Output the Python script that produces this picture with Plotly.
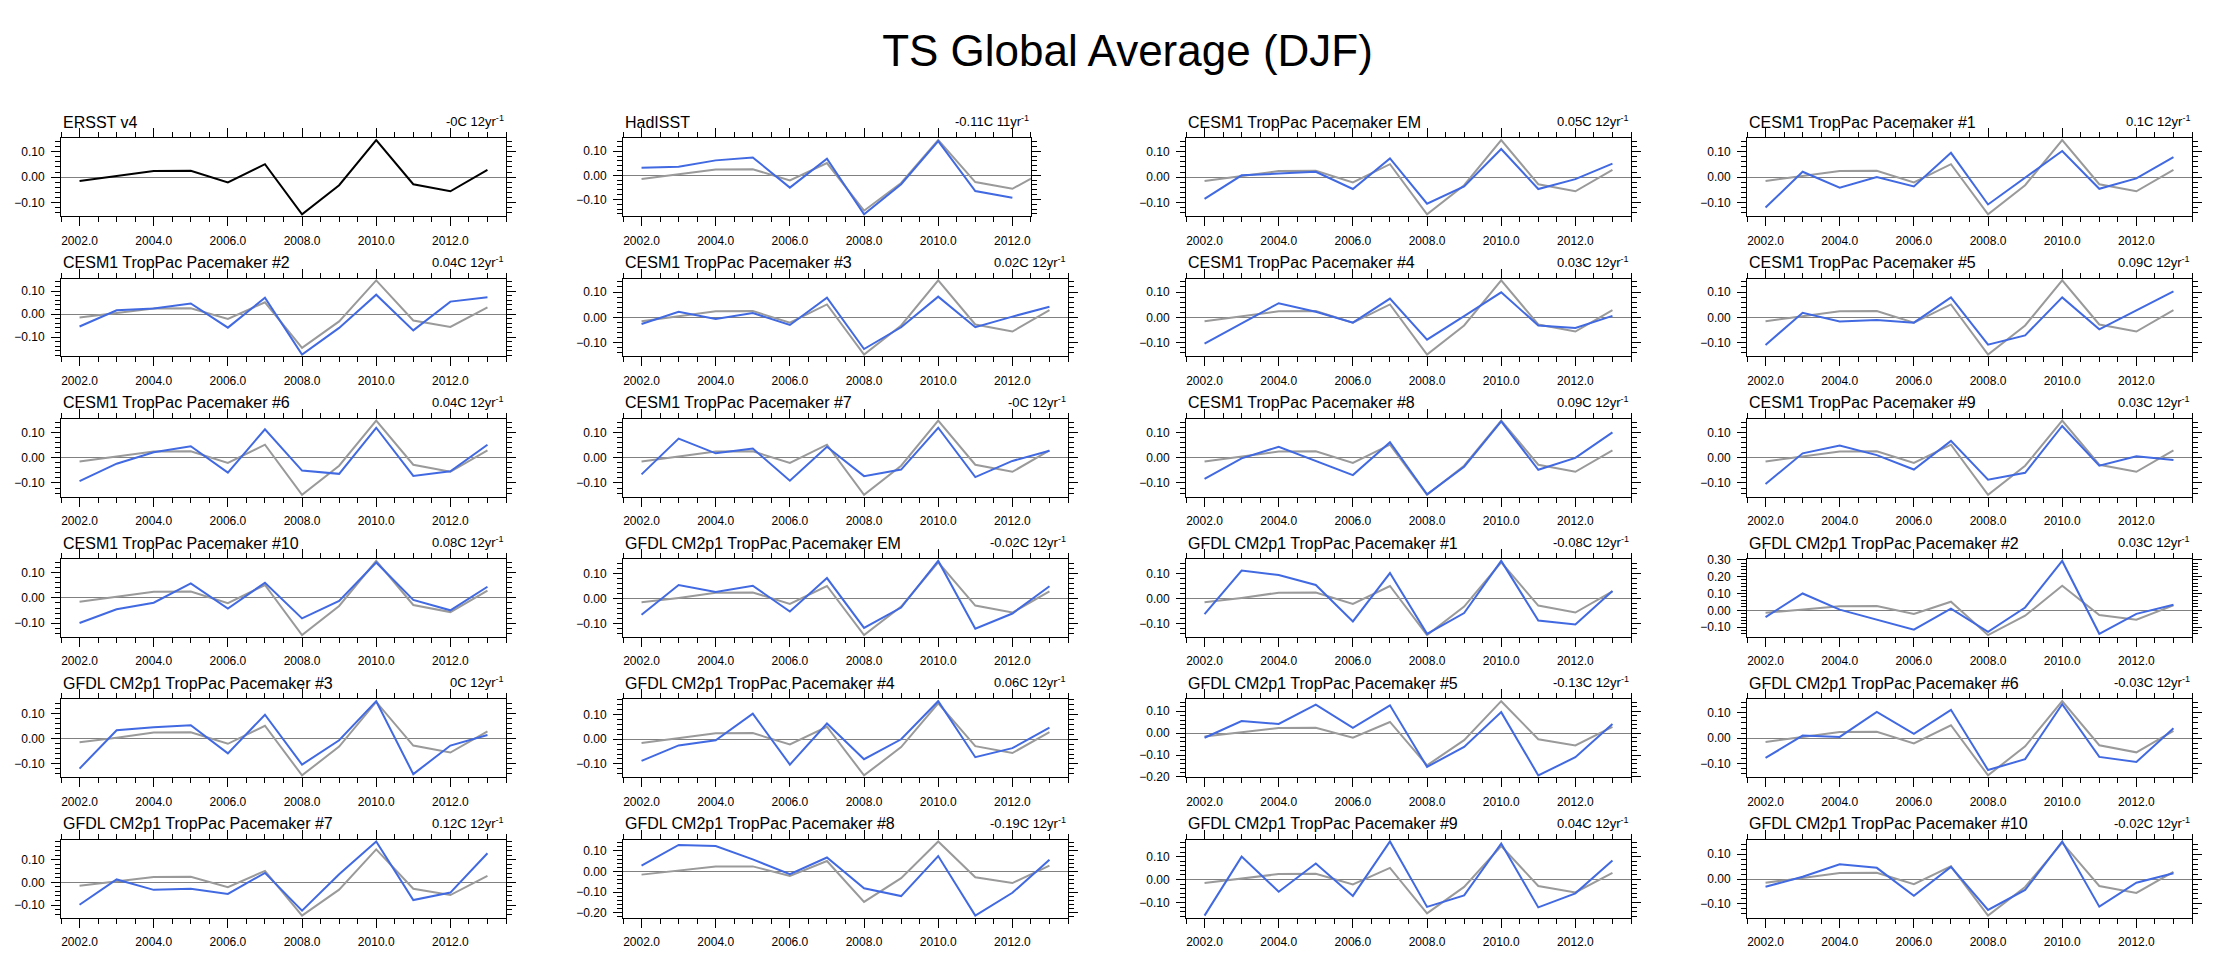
import plotly.graph_objects as go

# DJF global mean TS anomalies (C), 2002-2013
years = list(range(2002, 2014))

ersst = [-0.015, 0.003, 0.024, 0.025, -0.021, 0.051, -0.147, -0.032, 0.146, -0.028, -0.056, 0.029]
hadisst = [0.031, 0.036, 0.062, 0.074, -0.051, 0.069, -0.162, -0.037, 0.142, -0.065, -0.093]

cesm_em = [-0.086, 0.007, 0.014, 0.021, -0.047, 0.074, -0.105, -0.037, 0.111, -0.047, -0.008, 0.053]
cesm_01 = [-0.120, 0.021, -0.042, 0.000, -0.037, 0.096, -0.108, -0.003, 0.103, -0.046, -0.005, 0.079]
cesm_02 = [-0.054, 0.016, 0.024, 0.046, -0.059, 0.071, -0.176, -0.060, 0.084, -0.071, 0.054, 0.073]
cesm_03 = [-0.026, 0.022, -0.006, 0.017, -0.030, 0.078, -0.125, -0.039, 0.082, -0.039, 0.003, 0.042]
cesm_04 = [-0.104, -0.025, 0.056, 0.022, -0.021, 0.074, -0.088, 0.005, 0.099, -0.032, -0.042, 0.006]
cesm_05 = [-0.109, 0.018, -0.016, -0.010, -0.021, 0.079, -0.108, -0.071, 0.079, -0.047, 0.028, 0.103]
cesm_06 = [-0.093, -0.024, 0.021, 0.045, -0.059, 0.112, -0.051, -0.064, 0.118, -0.072, -0.054, 0.051]
cesm_07 = [-0.066, 0.075, 0.017, 0.036, -0.091, 0.043, -0.073, -0.047, 0.118, -0.077, -0.013, 0.027]
cesm_08 = [-0.084, -0.003, 0.043, -0.014, -0.069, 0.061, -0.145, -0.036, 0.143, -0.048, -0.001, 0.100]
cesm_09 = [-0.104, 0.017, 0.048, 0.010, -0.047, 0.066, -0.087, -0.060, 0.125, -0.032, 0.005, -0.009]
cesm_10 = [-0.099, -0.045, -0.019, 0.057, -0.042, 0.060, -0.081, -0.012, 0.140, -0.008, -0.049, 0.044]

gfdl_em = [-0.065, 0.055, 0.027, 0.052, -0.052, 0.083, -0.118, -0.036, 0.152, -0.121, -0.060, 0.050]
gfdl_01 = [-0.062, 0.113, 0.095, 0.055, -0.092, 0.103, -0.142, -0.058, 0.152, -0.088, -0.104, 0.031]
gfdl_02 = [-0.040, 0.100, 0.004, -0.055, -0.115, 0.010, -0.127, 0.017, 0.293, -0.139, -0.021, 0.033]
gfdl_03 = [-0.120, 0.033, 0.045, 0.053, -0.059, 0.095, -0.104, -0.007, 0.149, -0.142, -0.028, 0.014]
gfdl_04 = [-0.088, -0.025, -0.004, 0.104, -0.103, 0.064, -0.081, 0.000, 0.155, -0.073, -0.036, 0.047]
gfdl_05 = [-0.021, 0.055, 0.042, 0.130, 0.024, 0.127, -0.154, -0.063, 0.096, -0.193, -0.110, 0.042]
gfdl_06 = [-0.078, 0.010, 0.005, 0.104, 0.017, 0.112, -0.126, -0.083, 0.134, -0.074, -0.094, 0.039]
gfdl_07 = [-0.099, 0.013, -0.033, -0.028, -0.051, 0.042, -0.125, 0.036, 0.181, -0.078, -0.045, 0.129]
gfdl_08 = [0.029, 0.129, 0.124, 0.059, -0.013, 0.068, -0.081, -0.119, 0.075, -0.214, -0.103, 0.057]
gfdl_09 = [-0.157, 0.100, -0.053, 0.070, -0.071, 0.166, -0.119, -0.069, 0.157, -0.121, -0.060, 0.083]
gfdl_10 = [-0.031, 0.009, 0.059, 0.045, -0.067, 0.049, -0.124, -0.044, 0.151, -0.111, -0.015, 0.023]

titles = [
    "ERSST v4", "HadISST", "CESM1 TropPac Pacemaker EM", "CESM1 TropPac Pacemaker #1",
    "CESM1 TropPac Pacemaker #2", "CESM1 TropPac Pacemaker #3", "CESM1 TropPac Pacemaker #4", "CESM1 TropPac Pacemaker #5",
    "CESM1 TropPac Pacemaker #6", "CESM1 TropPac Pacemaker #7", "CESM1 TropPac Pacemaker #8", "CESM1 TropPac Pacemaker #9",
    "CESM1 TropPac Pacemaker #10", "GFDL CM2p1 TropPac Pacemaker EM", "GFDL CM2p1 TropPac Pacemaker #1", "GFDL CM2p1 TropPac Pacemaker #2",
    "GFDL CM2p1 TropPac Pacemaker #3", "GFDL CM2p1 TropPac Pacemaker #4", "GFDL CM2p1 TropPac Pacemaker #5", "GFDL CM2p1 TropPac Pacemaker #6",
    "GFDL CM2p1 TropPac Pacemaker #7", "GFDL CM2p1 TropPac Pacemaker #8", "GFDL CM2p1 TropPac Pacemaker #9", "GFDL CM2p1 TropPac Pacemaker #10",
]
trends = [
    "-0C", "-0.11C", "0.05C", "0.1C",
    "0.04C", "0.02C", "0.03C", "0.09C",
    "0.04C", "-0C", "0.09C", "0.03C",
    "0.08C", "-0.02C", "-0.08C", "0.03C",
    "0C", "0.06C", "-0.13C", "-0.03C",
    "0.12C", "-0.19C", "0.04C", "-0.02C",
]
series = [
    ersst, hadisst, cesm_em, cesm_01,
    cesm_02, cesm_03, cesm_04, cesm_05,
    cesm_06, cesm_07, cesm_08, cesm_09,
    cesm_10, gfdl_em, gfdl_01, gfdl_02,
    gfdl_03, gfdl_04, gfdl_05, gfdl_06,
    gfdl_07, gfdl_08, gfdl_09, gfdl_10,
]

W, H = 2239, 953
col_left = [53, 615, 1178, 1739]
row_top = [126, 268.2, 410.4, 552.6, 694.8, 837]
box_w, box_h = 445, 79
px_per_yr = box_w / 12.0

FONT = "Liberation Sans, Arial, sans-serif"
BLUE = "#4169e1"
GRAY = "#9a9a9a"

fig = go.Figure()
annotations = []

for i, (title, trend, vals) in enumerate(zip(titles, trends, series)):
    r, c = divmod(i, 4)
    n = len(vals)
    yrs = years[:n]
    xmax = yrs[-1] + 0.5
    x0 = col_left[c]
    x1 = x0 + px_per_yr * (xmax - 2001.5)
    y0 = row_top[r]
    y1 = y0 + box_h
    k = "" if i == 0 else str(i + 1)

    if i == 0:
        fig.add_trace(go.Scatter(x=yrs, y=vals, mode="lines", line=dict(color="black", width=2),
                                 xaxis="x" + k, yaxis="y" + k, showlegend=False))
        allv = list(vals)
    else:
        fig.add_trace(go.Scatter(x=years, y=ersst, mode="lines", line=dict(color=GRAY, width=2),
                                 xaxis="x" + k, yaxis="y" + k, showlegend=False))
        fig.add_trace(go.Scatter(x=yrs, y=vals, mode="lines", line=dict(color=BLUE, width=2),
                                 xaxis="x" + k, yaxis="y" + k, showlegend=False))
        allv = list(vals) + list(ersst)

    lo, hi = min(allv), max(allv)
    pad = 0.025 * (hi - lo)

    fig.layout["xaxis" + k] = dict(
        domain=[x0 / W, x1 / W], anchor="y" + k, range=[2001.5, xmax],
        tickmode="linear", tick0=2002, dtick=2, tickformat=".1f",
        ticks="outside", ticklen=9, tickwidth=1, tickcolor="black",
        minor=dict(tick0=2002, dtick=0.5, ticks="outside", ticklen=5, tickcolor="black"),
        showline=True, linecolor="black", linewidth=1, mirror="allticks",
        showgrid=False, zeroline=False, ticklabelstandoff=4,
        tickfont=dict(family=FONT, size=12, color="black"),
    )
    fig.layout["yaxis" + k] = dict(
        domain=[1 - y1 / H, 1 - y0 / H], anchor="x" + k, range=[lo - pad, hi + pad],
        tickmode="linear", tick0=0, dtick=0.1, tickformat=".2f",
        ticks="outside", ticklen=9, tickwidth=1, tickcolor="black",
        minor=dict(tick0=0, dtick=0.02, ticks="outside", ticklen=5, tickcolor="black"),
        showline=True, linecolor="black", linewidth=1, mirror="allticks",
        showgrid=False, zeroline=True, zerolinecolor="#808080", zerolinewidth=1,
        ticklabelstandoff=4,
        tickfont=dict(family=FONT, size=12, color="black"),
    )

    annotations.append(dict(
        text=title, xref="paper", yref="paper", x=x0 / W, y=1 - y0 / H,
        xanchor="left", yanchor="middle", yshift=16, showarrow=False,
        font=dict(family=FONT, size=16, color="black"),
    ))
    annotations.append(dict(
        text=trend + " " + str(n) + "yr<sup>-1</sup>", xref="paper", yref="paper",
        x=(x0 + px_per_yr * 12) / W if i != 1 else x1 / W, y=1 - y0 / H,
        xanchor="right", yanchor="middle", yshift=17, showarrow=False,
        font=dict(family=FONT, size=13, color="black"),
    ))

fig.update_layout(
    width=W, height=H,
    margin=dict(l=0, r=0, t=0, b=0),
    paper_bgcolor="white", plot_bgcolor="white",
    title=dict(text="TS Global Average (DJF)", x=0.5, xanchor="center",
               y=1 - 43 / H, yanchor="middle", yref="container",
               font=dict(family=FONT, size=44, color="black")),
    annotations=annotations,
)

fig.write_html("out.html")
